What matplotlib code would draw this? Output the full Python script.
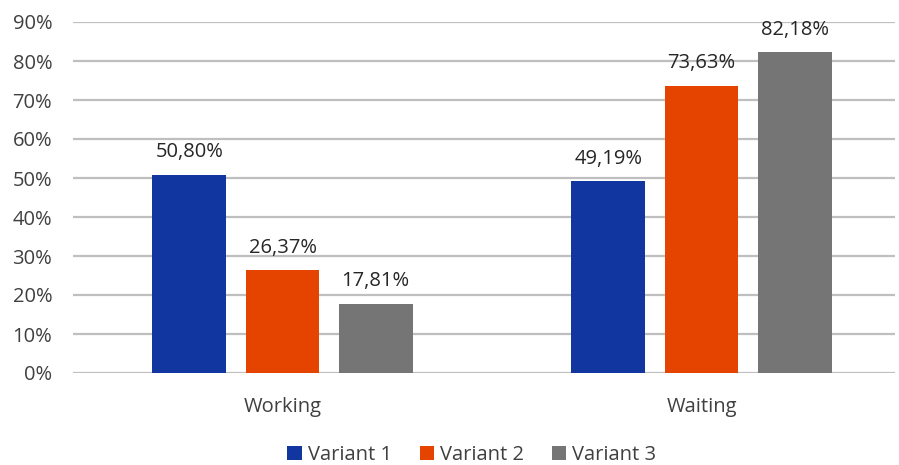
import numpy as np
import matplotlib.pyplot as plt

categories = ['Working', 'Waiting']
series_names = ['Variant 1', 'Variant 2', 'Variant 3']
variant1 = [50.80, 49.19]
variant2 = [26.37, 73.63]
variant3 = [17.81, 82.18]
colors = ['#12369F', '#E54300', '#757575']

plt.rcParams['font.family'] = ['Open Sans', 'DejaVu Sans']
fig = plt.figure(figsize=(8.99, 4.65), dpi=100)
ax = fig.add_axes([73 / 899, 1 - 373 / 465, (895 - 73) / 899, (373 - 22) / 465])

x = np.arange(len(categories))
width = 0.1766
step = 0.222
for i, (vals, name) in enumerate(zip([variant1, variant2, variant3], series_names)):
    pos = x + (i - 1) * step
    ax.bar(pos, vals, width, color=colors[i], label=name, zorder=3)
    for p, v in zip(pos, vals):
        ax.text(p, v + 3.2, ('%.2f%%' % v).replace('.', ','), ha='center', va='bottom',
                fontsize=14.5, color='#262626', zorder=4, clip_on=False)

ax.set_ylim(0, 90)
ax.set_xlim(-0.5, -0.5 + (895 - 73) / 419)
ax.set_yticks(range(0, 91, 10))
ax.set_yticklabels(['%d%%' % t for t in range(0, 91, 10)])
ax.set_xticks(x)
ax.set_xticklabels(categories)
ax.tick_params(axis='both', length=0, labelsize=14.5, colors='#404040')
ax.tick_params(axis='y', pad=15)
ax.tick_params(axis='x', pad=17)
ax.grid(axis='y', color='#BFBFBF', linewidth=1.6, zorder=0)
for s in ax.spines.values():
    s.set_visible(False)

ax.legend(loc='center', bbox_to_anchor=(472 / 899, 10 / 465), bbox_transform=fig.transFigure,
          ncol=3, frameon=False, fontsize=14.5, handlelength=0.7, handleheight=0.7,
          handletextpad=0.3, columnspacing=1.4, labelcolor='#404040')

fig.savefig('out.png', dpi=100)
